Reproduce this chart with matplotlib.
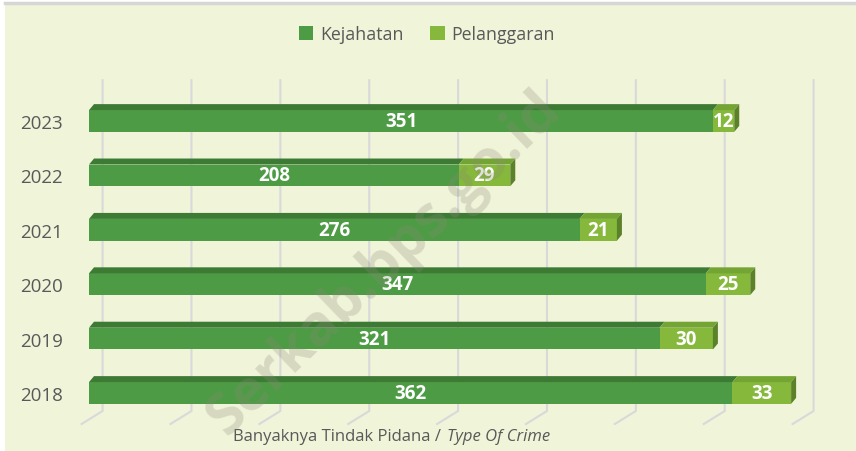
import numpy as np
import matplotlib
matplotlib.use("Agg")
import matplotlib.pyplot as plt
from matplotlib.patches import Polygon, Rectangle, Patch
from matplotlib.lines import Line2D

plt.rcParams['font.family'] = ['Open Sans', 'DejaVu Sans']

# data
years = ['2018', '2019', '2020', '2021', '2022', '2023']
kejahatan = [362, 321, 347, 276, 208, 351]
pelanggaran = [33, 30, 25, 21, 29, 12]
ticks = [0, 50, 100, 150, 200, 250, 300, 350, 400]

# colours
bg = '#F0F4D9'
k_front, k_top = '#4E9B45', '#3D7B35'
p_front, p_top, p_side = '#85B83B', '#74A534', '#5C812B'
grey = '#595959'

W, H = 856, 452
fig = plt.figure(figsize=(W / 100, H / 100), dpi=100)
fig.patch.set_facecolor('white')
fig.patches.append(Rectangle((5 / W, 0), 1, (H - 3) / H, transform=fig.transFigure,
                             facecolor=bg, edgecolor='none', zorder=-10))
fig.add_artist(Line2D([5 / W, 1], [(H - 4) / H] * 2, color='#D6D6D6', lw=2.5))

# axes placed so that 0..400 runs over px 89..800
px_per_unit = (800 - 89) / 400
px_per_cat = 54.4
ylo, yhi = -0.62, 5.75
ax_h = (yhi - ylo) * px_per_cat
ax_bottom = H - (394 + (-ylo) * px_per_cat)
ax = fig.add_axes([89 / W, ax_bottom / H, 711 / W, ax_h / H])
ax.set_facecolor('none')
ax.set_xlim(0, 400)
ax.set_ylim(ylo, yhi)
for s in ax.spines.values():
    s.set_visible(False)

# 3d depth of the bars and of the walls, in data units
bdx, bdy = 5 / px_per_unit, 6 / px_per_cat
gdx = 13.6 / px_per_unit
floor_back = -18 / px_per_cat
floor_front = -31 / px_per_cat
floor_dx = -21 / px_per_unit

# gridlines on back wall and floor
for t in ticks:
    ax.plot([t + gdx, t + gdx, t + gdx + floor_dx], [yhi, floor_back, floor_front],
            color='#D9D9D9', lw=1.5, zorder=0, clip_on=False, solid_joinstyle='miter')

y = np.arange(len(years))
h = 0.4
ax.barh(y, kejahatan, height=h, color=k_front, zorder=3)
ax.barh(y, pelanggaran, left=kejahatan, height=h, color=p_front, zorder=3)

for i in range(len(years)):
    k, p = kejahatan[i], pelanggaran[i]
    top = y[i] + h / 2
    ax.add_patch(Polygon([(0, top), (k, top), (k + bdx, top + bdy), (bdx, top + bdy)],
                         closed=True, facecolor=k_top, edgecolor='none', zorder=3))
    ax.add_patch(Polygon([(k, top), (k + p, top), (k + p + bdx, top + bdy), (k + bdx, top + bdy)],
                         closed=True, facecolor=p_top, edgecolor='none', zorder=3))
    ax.add_patch(Polygon([(k + p, top - h), (k + p, top), (k + p + bdx, top + bdy),
                          (k + p + bdx, top - h + bdy)],
                         closed=True, facecolor=p_side, edgecolor='none', zorder=3))
    ax.text(k / 2, y[i], str(k), ha='center', va='center', color='white',
            fontsize=13.5, fontweight='bold', zorder=5)
    ax.text(k + p / 2, y[i], str(p), ha='center', va='center', color='white',
            fontsize=13.5, fontweight='bold', zorder=5)

ax.set_xticks([])
ax.set_yticks(y, years)
ax.tick_params(axis='y', length=0, pad=19, labelsize=13.5, labelcolor=grey)

# axis title, part italic
fig.text(441 / W, (H - 437) / H, 'Banyaknya Tindak Pidana /', ha='right', va='center',
         fontsize=12, color=grey)
fig.text(447 / W, (H - 437) / H, 'Type Of Crime', ha='left', va='center',
         fontsize=12, color=grey, style='italic')

# legend
handles = [Patch(facecolor=k_front, label='Kejahatan'), Patch(facecolor=p_front, label='Pelanggaran')]
fig.legend(handles=handles, loc='center', bbox_to_anchor=(427 / W, (H - 35) / H), ncol=2,
           frameon=False, fontsize=12.8, labelcolor=grey, handlelength=0.8, handleheight=0.8,
           handletextpad=0.4, columnspacing=1.5)

# watermark
fig.text(384 / W, (H - 264) / H, 'Serkab.bps.go.id', rotation=44, rotation_mode='anchor',
         ha='center', va='center', fontsize=41, fontweight='bold', color='#8A8A78', alpha=0.26,
         zorder=10)

fig.savefig('out.png', dpi=100, facecolor=fig.get_facecolor())
